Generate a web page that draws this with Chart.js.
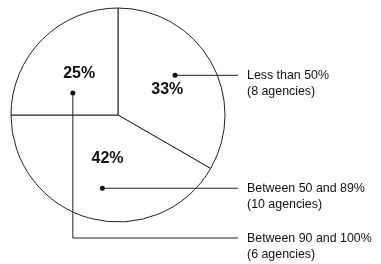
<!DOCTYPE html>
<html>
<head>
<meta charset="utf-8">
<script src="https://cdn.jsdelivr.net/npm/chart.js@4"></script>
<style>
  html, body { margin: 0; padding: 0; background: #fff; }
  #wrap { width: 381px; height: 264px; position: relative; }
</style>
</head>
<body>
<div id="wrap"><canvas id="myChart"></canvas></div>
<script>
// data
const categories = ['Less than 50%', 'Between 50 and 89%', 'Between 90 and 100%'];
const agencies = [8, 10, 6];
const notes = ['(8 agencies)', '(10 agencies)', '(6 agencies)'];

// where inside each slice the percent text and the dot sit
// (fraction of the slice angle, fraction of the radius)
const labelPos = [[0.52, 0.52], [0.49, 0.42], [0.52, 0.53]];
const dotPos = [[0.46, 0.65], [0.48, 0.70], [0.29, 0.47]];

const total = agencies.reduce((a, b) => a + b, 0);
const percents = agencies.map(v => Math.round(v / total * 100) + '%');

const calloutPlugin = {
    id: 'callouts',
    afterDatasetsDraw(chart) {
        const c = chart.ctx;
        const arcs = chart.getDatasetMeta(0).data;
        const lineEnd = 238;
        const textX = 247;
        c.save();
        arcs.forEach((arc, i) => {
            const { x, y, startAngle, endAngle, outerRadius } = arc.getProps(['x', 'y', 'startAngle', 'endAngle', 'outerRadius'], true);
            const span = endAngle - startAngle;

            // percent text
            let a = startAngle + span * labelPos[i][0];
            let d = outerRadius * labelPos[i][1];
            c.fillStyle = '#111';
            c.font = 'bold 16px "Liberation Sans", Arial, sans-serif';
            c.textAlign = 'center';
            c.textBaseline = 'middle';
            c.fillText(percents[i], x + Math.cos(a) * d, y + Math.sin(a) * d);

            // dot and leader line
            a = startAngle + span * dotPos[i][0];
            d = outerRadius * dotPos[i][1];
            const dx = x + Math.cos(a) * d;
            const dy = y + Math.sin(a) * d;
            let ly = dy;
            c.strokeStyle = '#222';
            c.lineWidth = 1;
            c.beginPath();
            c.moveTo(dx, dy);
            if (i === 2) {
                // last one drops below the pie before going right
                ly = y + outerRadius + 16;
                c.lineTo(dx, ly);
            }
            c.lineTo(lineEnd, ly);
            c.stroke();
            c.beginPath();
            c.arc(dx, dy, 2.5, 0, Math.PI * 2);
            c.fill();

            // legend text
            c.font = '12.4px "Liberation Sans", Arial, sans-serif';
            c.textAlign = 'left';
            c.textBaseline = 'alphabetic';
            c.fillText(categories[i], textX, ly + 4);
            c.fillText(notes[i], textX, ly + 20);
        });
        c.restore();
    }
};

const ctx = document.getElementById('myChart').getContext('2d');
const myChart = new Chart(ctx, {
    type: 'pie',
    data: {
        labels: categories,
        datasets: [{
            data: agencies,
            backgroundColor: '#fff',
            borderColor: '#222',
            borderWidth: 1,
            hoverOffset: 0
        }]
    },
    options: {
        responsive: true,
        maintainAspectRatio: false,
        animation: false,
        radius: 107,
        layout: { padding: { left: 0, top: 0, right: 145, bottom: 34 } },
        plugins: {
            legend: { display: false },
            tooltip: { enabled: false }
        },
        events: []
    },
    plugins: [calloutPlugin]
});
</script>
</body>
</html>
